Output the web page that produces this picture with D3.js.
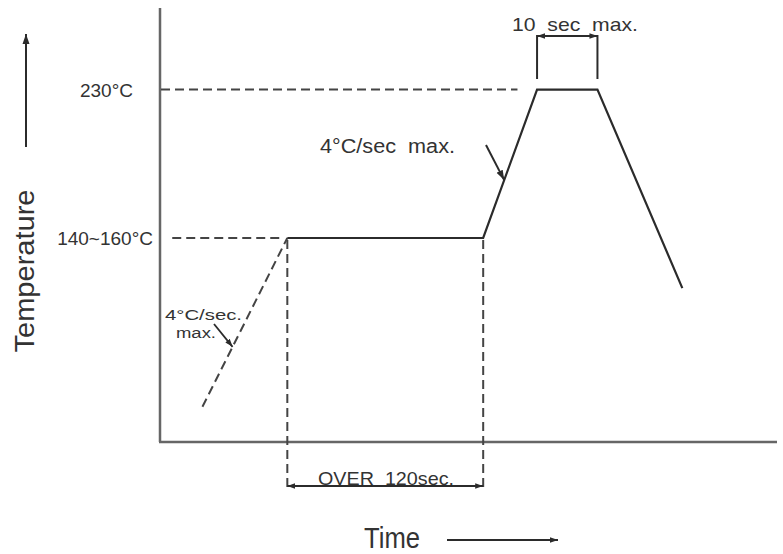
<!DOCTYPE html>
<html>
<head>
<meta charset="utf-8">
<script src="https://cdn.jsdelivr.net/npm/d3@7"></script>
<style>
  html, body { margin: 0; padding: 0; background: #fff; }
  svg { display: block; }
  text { font-family: "Liberation Sans", Arial, sans-serif; fill: #333; white-space: pre; }
</style>
</head>
<body>
<svg id="chart" width="783" height="554"></svg>
<script>
// Reflow soldering profile (schematic): time in seconds, temperature in °C
const preheatRamp = [[26, 59], [78, 150]];             // dashed: ramp into soak
const profileTimes = [78, 198, 231, 268, 320];          // solid profile
const profileTemps = [150, 150, 230, 230, 123];
const refTemps = [230, 150];                            // reference temperatures
const refLabels = ["230°C", "140~160°C"];
const soakSpan = [78, 198];                             // OVER 120 sec.
const peakSpan = [231, 268];                            // 10 sec max.

const svg = d3.select("#chart");

const x = d3.scaleLinear().domain([0, 378]).range([160, 777]);
const y = d3.scaleLinear().domain([40, 274]).range([442, 8]);

const ink = "#2b2b2b";
const axisInk = "#666";

// arrowhead markers
const defs = svg.append("defs");
function marker(id, size) {
  defs.append("marker")
    .attr("id", id)
    .attr("viewBox", "0 0 10 10")
    .attr("refX", 10).attr("refY", 5)
    .attr("markerWidth", size).attr("markerHeight", size)
    .attr("markerUnits", "userSpaceOnUse")
    .attr("orient", "auto-start-reverse")
    .append("path")
    .attr("d", "M0,1.5 L10,5 L0,8.5 Z")
    .attr("fill", ink);
}
marker("arr", 10);
marker("arrSmall", 8);

// axes (plain frame lines, no ticks)
svg.append("line")
  .attr("x1", x(0)).attr("x2", x(0))
  .attr("y1", y(274)).attr("y2", y(40))
  .attr("stroke", axisInk).attr("stroke-width", 2.5);
svg.append("line")
  .attr("x1", x(0) - 1).attr("x2", x(378))
  .attr("y1", y(40)).attr("y2", y(40))
  .attr("stroke", axisInk).attr("stroke-width", 2.5);

// reference dashed levels
svg.append("line")
  .attr("x1", x(0) + 1).attr("x2", x(219))
  .attr("y1", y(230)).attr("y2", y(230))
  .attr("stroke", "#444").attr("stroke-width", 2)
  .attr("stroke-dasharray", "9,5");
svg.append("line")
  .attr("x1", x(7.5)).attr("x2", x(73.5))
  .attr("y1", y(150)).attr("y2", y(150))
  .attr("stroke", "#444").attr("stroke-width", 2)
  .attr("stroke-dasharray", "9,5");

// reference labels
svg.selectAll("text.ref")
  .data(refTemps)
  .join("text")
  .attr("class", "ref")
  .attr("x", (d, i) => i === 0 ? 133 : 153)
  .attr("y", d => y(d) + 7)
  .attr("text-anchor", "end")
  .attr("font-size", 19)
  .text((d, i) => refLabels[i]);

// soak extension lines
svg.selectAll("line.ext")
  .data(soakSpan)
  .join("line")
  .attr("class", "ext")
  .attr("x1", d => x(d)).attr("x2", d => x(d))
  .attr("y1", y(150) + 2).attr("y2", 487)
  .attr("stroke", "#444").attr("stroke-width", 2)
  .attr("stroke-dasharray", "9,5");

// dashed preheat ramp
const line = d3.line().x(d => x(d[0])).y(d => y(d[1]));
svg.append("path")
  .attr("d", line(preheatRamp))
  .attr("fill", "none")
  .attr("stroke", "#444").attr("stroke-width", 2)
  .attr("stroke-dasharray", "9,5");

// solid profile
const profile = profileTimes.map((t, i) => [t, profileTemps[i]]);
svg.append("path")
  .attr("d", line(profile))
  .attr("fill", "none")
  .attr("stroke", ink).attr("stroke-width", 2.2)
  .attr("stroke-linejoin", "miter");

// OVER 120sec. dimension
svg.append("line")
  .attr("x1", x(soakSpan[0])).attr("x2", x(soakSpan[1]))
  .attr("y1", 486).attr("y2", 486)
  .attr("stroke", ink).attr("stroke-width", 2)
  .attr("marker-start", "url(#arrSmall)")
  .attr("marker-end", "url(#arrSmall)");
svg.append("text")
  .attr("x", 318).attr("y", 485)
  .attr("font-size", 19)
  .attr("textLength", 136).attr("lengthAdjust", "spacingAndGlyphs")
  .text("OVER  120sec.");

// 10 sec max. bracket
svg.selectAll("line.peak")
  .data(peakSpan)
  .join("line")
  .attr("class", "peak")
  .attr("x1", d => x(d)).attr("x2", d => x(d))
  .attr("y1", 35).attr("y2", 79)
  .attr("stroke", ink).attr("stroke-width", 2);
svg.append("line")
  .attr("x1", x(peakSpan[0])).attr("x2", x(peakSpan[1]))
  .attr("y1", 36).attr("y2", 36)
  .attr("stroke", ink).attr("stroke-width", 2)
  .attr("marker-start", "url(#arrSmall)")
  .attr("marker-end", "url(#arrSmall)");
svg.append("text")
  .attr("x", 512).attr("y", 31)
  .attr("font-size", 19)
  .attr("textLength", 126).attr("lengthAdjust", "spacingAndGlyphs")
  .text("10  sec  max.");

// ramp-rate callouts, arrow tips land on the ramps
function along(a, b, f) {
  return [a[0] + (b[0] - a[0]) * f, a[1] + (b[1] - a[1]) * f];
}
const tipUpper = along(profile[1], profile[2], 0.39);
svg.append("line")
  .attr("x1", 486).attr("y1", 145)
  .attr("x2", x(tipUpper[0])).attr("y2", y(tipUpper[1]))
  .attr("stroke", ink).attr("stroke-width", 2)
  .attr("marker-end", "url(#arr)");
svg.append("text")
  .attr("x", 320).attr("y", 153)
  .attr("font-size", 20)
  .attr("textLength", 135).attr("lengthAdjust", "spacingAndGlyphs")
  .text("4°C/sec  max.");

const tipLower = along(preheatRamp[0], preheatRamp[1], 0.355);
svg.append("line")
  .attr("x1", 214).attr("y1", 324)
  .attr("x2", x(tipLower[0])).attr("y2", y(tipLower[1]))
  .attr("stroke", ink).attr("stroke-width", 1.8)
  .attr("marker-end", "url(#arrSmall)");
svg.append("text")
  .attr("x", 165).attr("y", 320)
  .attr("font-size", 15.5)
  .attr("textLength", 77).attr("lengthAdjust", "spacingAndGlyphs")
  .text("4°C/sec.");
svg.append("text")
  .attr("x", 176).attr("y", 338)
  .attr("font-size", 15.5)
  .attr("textLength", 40).attr("lengthAdjust", "spacingAndGlyphs")
  .text("max.");

// axis titles with direction arrows
svg.append("text")
  .attr("transform", "translate(34,271) rotate(-90)")
  .attr("text-anchor", "middle")
  .attr("font-size", 27)
  .attr("textLength", 163).attr("lengthAdjust", "spacingAndGlyphs")
  .text("Temperature");
svg.append("line")
  .attr("x1", 26).attr("x2", 26)
  .attr("y1", 147).attr("y2", 34)
  .attr("stroke", ink).attr("stroke-width", 2)
  .attr("marker-end", "url(#arr)");

svg.append("text")
  .attr("x", 364).attr("y", 548)
  .attr("font-size", 29)
  .attr("textLength", 56).attr("lengthAdjust", "spacingAndGlyphs")
  .text("Time");
svg.append("line")
  .attr("x1", 447).attr("x2", 558)
  .attr("y1", 540).attr("y2", 540)
  .attr("stroke", ink).attr("stroke-width", 2)
  .attr("marker-end", "url(#arrSmall)");
</script>
</body>
</html>
